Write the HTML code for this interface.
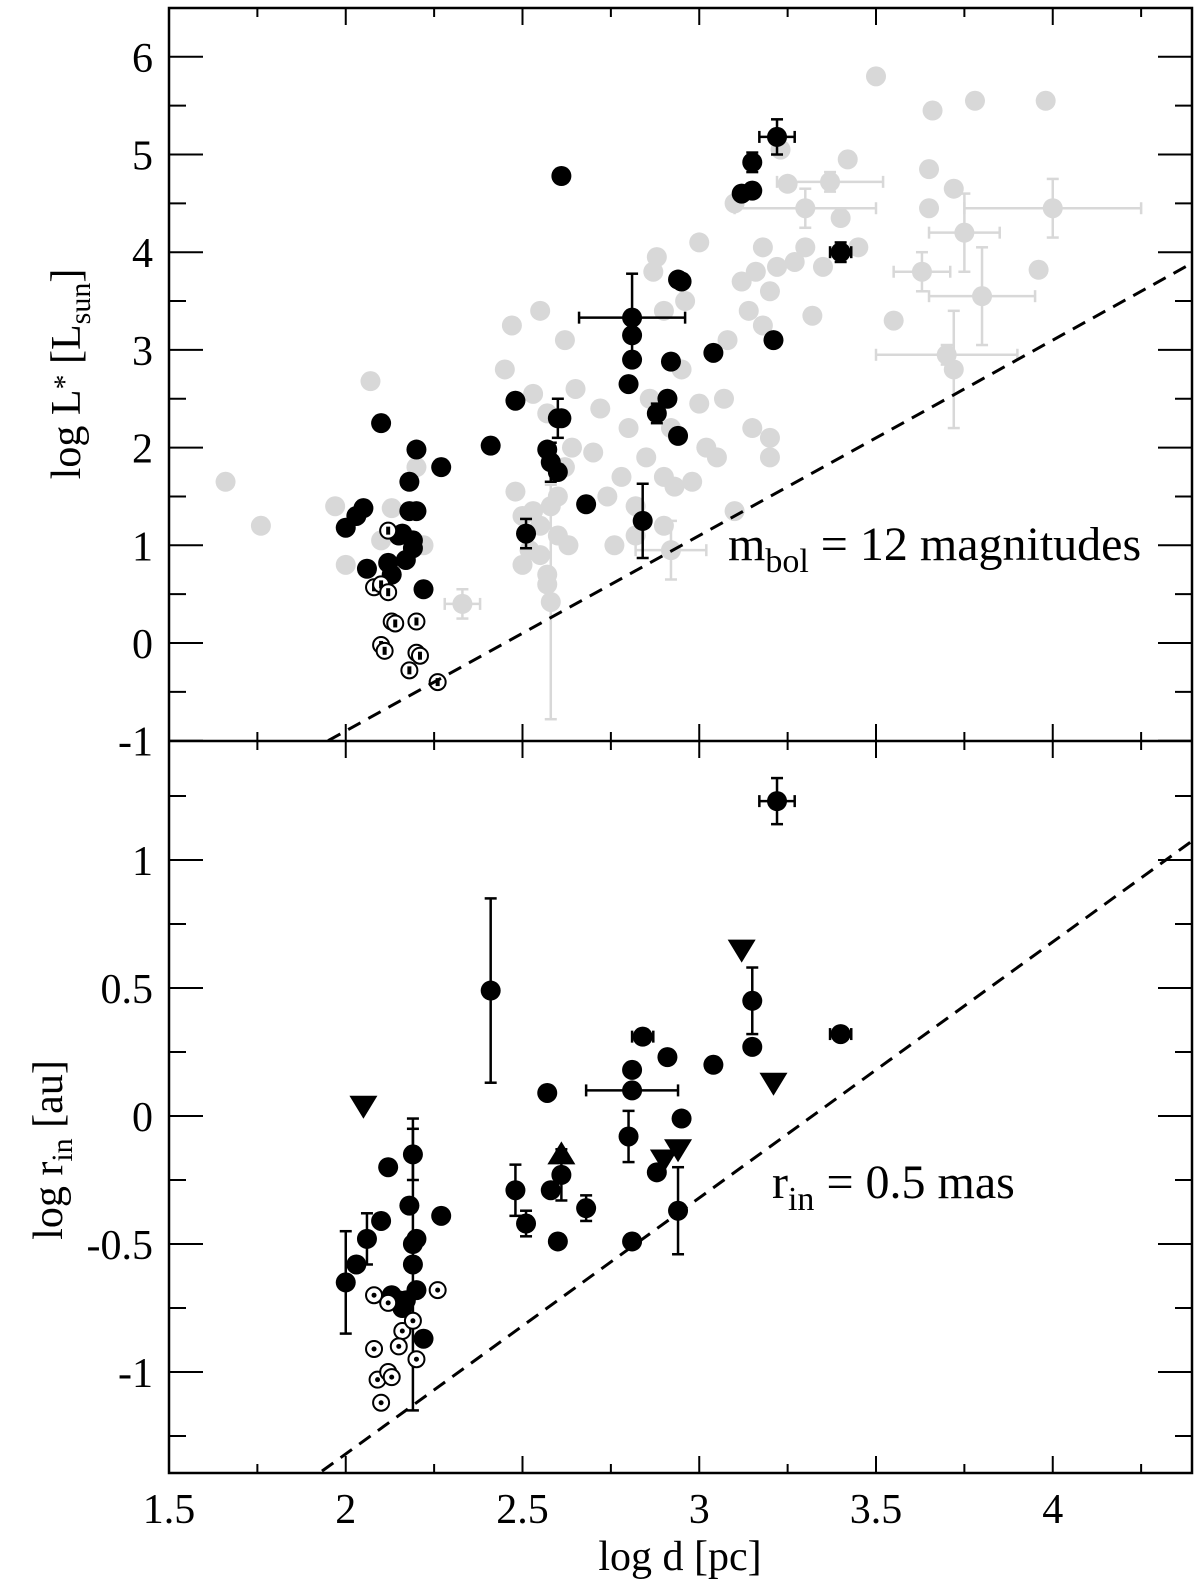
<!DOCTYPE html>
<html><head><meta charset="utf-8"><style>
html,body{margin:0;padding:0;background:#fff;overflow:hidden;width:1200px;height:1592px}
svg{display:block;position:absolute;left:0;top:0}
svg text{font-family:"Liberation Serif",serif;fill:#000}
</style></head><body>
<svg id="c" width="1200" height="1592" xmlns="http://www.w3.org/2000/svg"></svg>
<script>
const grayTop=[[1.66,1.65],[1.76,1.2],[1.97,1.4],[2.0,0.8],[2.07,2.68],[2.1,1.05],[2.13,1.38],[2.22,1.0],[2.2,1.8],[2.33,0.4],[2.47,3.25],[2.48,1.55],[2.5,1.3],[2.5,0.8],[2.52,0.95],[2.53,1.35],[2.55,1.2],[2.55,0.9],[2.57,0.7],[2.57,0.6],[2.58,0.42],[2.58,1.4],[2.6,1.1],[2.6,1.5],[2.62,1.8],[2.63,1.0],[2.64,2.0],[2.55,3.4],[2.62,3.1],[2.65,2.6],[2.7,1.95],[2.72,2.4],[2.74,1.5],[2.76,1.0],[2.78,1.7],[2.8,2.2],[2.82,1.4],[2.82,1.1],[2.85,1.9],[2.86,2.5],[2.87,3.8],[2.88,3.95],[2.9,3.4],[2.9,1.7],[2.9,1.2],[2.92,2.2],[2.93,1.6],[2.95,2.8],[2.96,3.5],[2.98,1.65],[3.0,4.1],[3.0,2.45],[3.02,2.0],[3.05,1.9],[3.07,2.5],[3.08,3.1],[3.1,1.35],[3.1,4.5],[3.12,3.7],[3.14,3.4],[3.15,2.2],[3.16,3.8],[3.18,3.25],[3.18,4.05],[3.2,3.6],[3.2,2.1],[3.2,1.9],[3.22,3.85],[3.23,5.05],[3.25,4.7],[3.27,3.9],[3.3,4.45],[3.3,4.05],[3.32,3.35],[3.35,3.85],[3.37,4.72],[3.4,4.35],[3.42,4.95],[3.45,4.05],[3.5,5.8],[3.55,3.3],[3.63,3.8],[3.65,4.45],[3.65,4.85],[3.66,5.45],[3.7,2.95],[3.72,2.8],[3.72,4.65],[3.75,4.2],[3.78,5.55],[3.8,3.55],[3.96,3.82],[3.98,5.55],[4.0,4.45],[2.45,2.8],[2.53,2.55],[2.57,2.35],[2.92,0.95]];
const grayErr=[[2.58,0.42,0,1.2],[2.92,0.95,0.1,0.3],[3.72,2.8,0,0.6],[3.8,3.55,0.15,0.5],[4.0,4.45,0.25,0.3],[3.3,4.45,0.2,0.2],[3.75,4.2,0.1,0.4],[3.63,3.8,0.08,0.2],[3.7,2.95,0.2,0.1],[2.33,0.4,0.05,0.15],[3.37,4.72,0.15,0.1]];
const blackTop=[[2.0,1.18],[2.03,1.3],[2.05,1.38],[2.1,2.25],[2.06,0.76],[2.12,0.82],[2.13,0.7],[2.16,1.12],[2.18,1.35],[2.19,1.05],[2.19,0.97],[2.2,1.35],[2.2,1.98],[2.18,1.65],[2.17,0.85],[2.22,0.55],[2.27,1.8],[2.15,1.1],[2.41,2.02],[2.48,2.48],[2.51,1.12],[2.57,1.98],[2.58,1.85],[2.6,1.75],[2.6,2.3],[2.61,2.3],[2.61,4.78],[2.68,1.42],[2.81,3.33],[2.81,3.15],[2.81,2.9],[2.8,2.65],[2.84,1.25],[2.88,2.35],[2.91,2.5],[2.92,2.88],[2.94,3.72],[2.95,3.7],[2.94,2.12],[3.04,2.97],[3.12,4.6],[3.15,4.63],[3.15,4.92],[3.21,3.1],[3.22,5.18],[3.4,4.0]];
const blackTopErr=[[2.81,3.33,0.15,0.45],[2.84,1.25,0,0.38],[2.6,2.3,0,0.2],[2.51,1.12,0,0.15],[3.22,5.18,0.05,0.18],[3.4,4.0,0.03,0.1],[3.15,4.92,0,0.1],[2.58,1.85,0,0.2],[2.88,2.35,0,0.1]];
const openTop=[[2.12,1.15],[2.08,0.57],[2.1,0.6],[2.12,0.52],[2.13,0.22],[2.14,0.2],[2.2,0.22],[2.1,-0.02],[2.11,-0.08],[2.2,-0.1],[2.21,-0.13],[2.18,-0.28],[2.26,-0.4]];
const blackBot=[[2.0,-0.65],[2.03,-0.58],[2.06,-0.48],[2.1,-0.41],[2.12,-0.2],[2.13,-0.7],[2.15,-0.72],[2.16,-0.75],[2.17,-0.72],[2.18,-0.35],[2.19,-0.15],[2.19,-0.5],[2.19,-0.58],[2.2,-0.48],[2.2,-0.68],[2.22,-0.87],[2.27,-0.39],[2.41,0.49],[2.48,-0.29],[2.51,-0.42],[2.57,0.09],[2.58,-0.29],[2.6,-0.49],[2.61,-0.23],[2.68,-0.36],[2.8,-0.08],[2.81,0.18],[2.81,0.1],[2.81,-0.49],[2.84,0.31],[2.88,-0.22],[2.91,0.23],[2.94,-0.37],[2.95,-0.01],[3.04,0.2],[3.15,0.45],[3.15,0.27],[3.22,1.23],[3.4,0.32]];
const blackBotErr=[[2.0,-0.65,0,0.2],[2.06,-0.48,0,0.1],[2.19,-0.15,0,0.1],[2.19,-0.58,0,0.57],[2.41,0.49,0,0.36],[2.48,-0.29,0,0.1],[2.51,-0.42,0,0.05],[2.61,-0.23,0,0.1],[2.68,-0.36,0,0.05],[2.81,0.1,0.13,0],[2.8,-0.08,0,0.1],[2.94,-0.37,0,0.17],[3.15,0.45,0,0.13],[3.22,1.23,0.05,0.09],[3.4,0.32,0.03,0],[2.84,0.31,0.03,0]];
const openBot=[[2.08,-0.7],[2.12,-0.73],[2.08,-0.91],[2.09,-1.03],[2.12,-1.0],[2.13,-1.02],[2.1,-1.12],[2.16,-0.84],[2.19,-0.8],[2.2,-0.95],[2.26,-0.68],[2.15,-0.9]];
const triDown=[[2.05,0.04],[3.12,0.65],[3.21,0.13],[2.94,-0.13],[2.9,-0.17]];
const triUp=[[2.61,-0.15]];
const xTicks=[1.5,2,2.5,3,3.5,4];
const xTickLabels=["1.5","2","2.5","3","3.5","4"];
const yTopTicks=[-1,0,1,2,3,4,5,6];
const yBotTicks=[-1,-0.5,0,0.5,1];
const yBotLabels=["-1","-0.5","0","0.5","1"];

const L=169,R=1192,T=8,M=741,B=1473;
const xs=v=>L+(v-1.5)*353.5;
const yt=v=>643-v*97.7;
const yb=v=>1116-v*256;
const S=document.getElementById('c');
const NS="http://www.w3.org/2000/svg";
function mk(t,a,name){const e=document.createElementNS(NS,t);for(const k in a)e.setAttribute(k,a[k]);


S.appendChild(e);return e;}
function errs(arr,yf,col,name){arr.forEach(d=>{const x=xs(d[0]),y=yf(d[1]);
if(d[2]>0){mk('line',{x1:xs(d[0]-d[2]),x2:xs(d[0]+d[2]),y1:y,y2:y,stroke:col,'stroke-width':2.5},name);
mk('line',{x1:xs(d[0]-d[2]),x2:xs(d[0]-d[2]),y1:y-6,y2:y+6,stroke:col,'stroke-width':2.5},name);
mk('line',{x1:xs(d[0]+d[2]),x2:xs(d[0]+d[2]),y1:y-6,y2:y+6,stroke:col,'stroke-width':2.5},name);}
if(d[3]>0){mk('line',{x1:x,x2:x,y1:yf(d[1]-d[3]),y2:yf(d[1]+d[3]),stroke:col,'stroke-width':2.5},name);
mk('line',{x1:x-6,x2:x+6,y1:yf(d[1]-d[3]),y2:yf(d[1]-d[3]),stroke:col,'stroke-width':2.5},name);
mk('line',{x1:x-6,x2:x+6,y1:yf(d[1]+d[3]),y2:yf(d[1]+d[3]),stroke:col,'stroke-width':2.5},name);}});}
const defs=mk('defs',{},'defs');
defs.innerHTML='<clipPath id="ct"><rect x="169" y="8" width="1023" height="733"/></clipPath><clipPath id="cb"><rect x="169" y="741" width="1023" height="732"/></clipPath>';
errs(grayErr,yt,'#d8d8d8','gray-error-bar');
grayTop.forEach(d=>mk('circle',{cx:xs(d[0]),cy:yt(d[1]),r:10,fill:'#d8d8d8'},'gray-point'));
errs(blackTopErr,yt,'#000','black-error-bar');
blackTop.forEach(d=>mk('circle',{cx:xs(d[0]),cy:yt(d[1]),r:10,fill:'#000'},'black-point'));
openTop.forEach(d=>{mk('circle',{cx:xs(d[0]),cy:yt(d[1]),r:8,fill:'#fff',stroke:'#000','stroke-width':2},'open-point');
mk('rect',{x:xs(d[0])-2,y:yt(d[1])-4,width:4,height:8,fill:'#000'},'open-point-dot');});
mk('line',{x1:xs(1.95),y1:yt(-1),x2:xs(4.39),y2:yt(2*4.39-4.9),stroke:'#000','stroke-width':3,'stroke-dasharray':'14,9','clip-path':'url(#ct)'},'mbol-limit-line');
errs(blackBotErr,yb,'#000','black-error-bar');
blackBot.forEach(d=>mk('circle',{cx:xs(d[0]),cy:yb(d[1]),r:10,fill:'#000'},'black-point'));
openBot.forEach(d=>{mk('circle',{cx:xs(d[0]),cy:yb(d[1]),r:8,fill:'#fff',stroke:'#000','stroke-width':2},'open-point');
mk('circle',{cx:xs(d[0]),cy:yb(d[1]),r:2.5,fill:'#000'},'open-point-dot');});
triDown.forEach(d=>{const x=xs(d[0]),y=yb(d[1]);mk('polygon',{points:`${x-14},${y-10} ${x+14},${y-10} ${x},${y+13}`,fill:'#000'},'upper-limit-triangle');});
triUp.forEach(d=>{const x=xs(d[0]),y=yb(d[1]);mk('polygon',{points:`${x-14},${y+10} ${x+14},${y+10} ${x},${y-13}`,fill:'#000'},'lower-limit-triangle');});
mk('line',{x1:xs(1.88),y1:yb(1.88-3.32),x2:xs(4.39),y2:yb(4.39-3.32),stroke:'#000','stroke-width':3,'stroke-dasharray':'14,9','clip-path':'url(#cb)'},'rin-limit-line');
mk('rect',{x:L,y:T,width:R-L,height:B-T,fill:'none',stroke:'#000','stroke-width':2.5},'plot-frame');
mk('line',{x1:L,x2:R,y1:M,y2:M,stroke:'#000','stroke-width':2.5},'panel-divider');
for(let v=1.5;v<=4.4;v+=0.25){const x=xs(v),maj=Math.abs(v*2-Math.round(v*2))<1e-6;const len=maj?17:9;
[T,M].forEach(y0=>{mk('line',{x1:x,x2:x,y1:y0,y2:y0+len,stroke:'#000','stroke-width':2},'x-tick');});
[M,B].forEach(y0=>{mk('line',{x1:x,x2:x,y1:y0,y2:y0-len,stroke:'#000','stroke-width':2},'x-tick');});}
xTicks.forEach((v,i)=>{const t=mk('text',{x:xs(v),y:1523,'font-size':42,'text-anchor':'middle'},'x-tick-label');t.textContent=xTickLabels[i];});
for(let v=-1;v<=6.5;v+=0.5){const y=yt(v),maj=Number.isInteger(v),len=maj?34:17;
mk('line',{x1:L,x2:L+len,y1:y,y2:y,stroke:'#000','stroke-width':2},'y-tick');
mk('line',{x1:R,x2:R-len,y1:y,y2:y,stroke:'#000','stroke-width':2},'y-tick');}
yTopTicks.forEach(v=>{const t=mk('text',{x:153,y:yt(v)+15,'font-size':42,'text-anchor':'end'},'y-tick-label-top');t.textContent=String(v);});
for(let v=-1.25;v<=1.45;v+=0.25){const y=yb(v);const maj=Math.abs(v*2-Math.round(v*2))<1e-6;const len=maj?34:17;
mk('line',{x1:L,x2:L+len,y1:y,y2:y,stroke:'#000','stroke-width':2},'y-tick');
mk('line',{x1:R,x2:R-len,y1:y,y2:y,stroke:'#000','stroke-width':2},'y-tick');}
yBotTicks.forEach((v,i)=>{const t=mk('text',{x:153,y:yb(v)+15,'font-size':42,'text-anchor':'end'},'y-tick-label-bottom');t.textContent=yBotLabels[i];});
</script>
<svg width="1200" height="1592" xmlns="http://www.w3.org/2000/svg">
<text x="680" y="1570" font-size="42" text-anchor="middle">log d [pc]</text>
<text transform="translate(80,374) rotate(-90)" font-size="42" text-anchor="middle">log L<tspan font-size="30" dy="-6">*</tspan><tspan dy="6"> [L</tspan><tspan font-size="30" dy="10">sun</tspan><tspan dy="-10">]</tspan></text>
<text transform="translate(62,1150) rotate(-90)" font-size="42" text-anchor="middle">log r<tspan font-size="30" dy="10">in</tspan><tspan dy="-10"> [au]</tspan></text>
<text x="728" y="560" font-size="48">m<tspan font-size="34" dy="12">bol</tspan><tspan dy="-12"> = 12 magnitudes</tspan></text>
<text x="772" y="1198" font-size="48">r<tspan font-size="34" dy="12">in</tspan><tspan dy="-12"> = 0.5 mas</tspan></text>
</svg>
</body></html>
